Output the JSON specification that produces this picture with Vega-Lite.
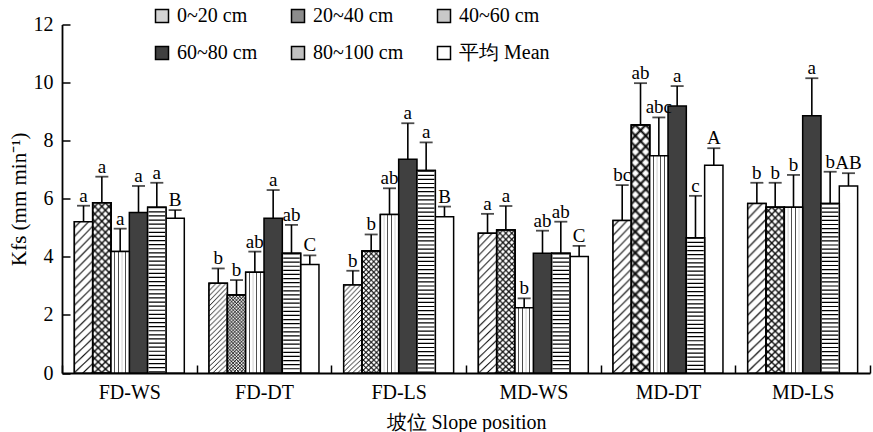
{
  "$schema": "https://vega.github.io/schema/vega-lite/v6.json",
  "width": 808,
  "height": 348.5,
  "autosize": "none",
  "padding": {"left": 62, "top": 24.5, "right": 3, "bottom": 59},
  "background": "white",
  "config": {
    "view": {"stroke": null},
    "font": "Liberation Serif",
    "axis": {
      "grid": false,
      "domainColor": "black",
      "domainWidth": 1.8,
      "tickColor": "black",
      "tickWidth": 1.5,
      "tickSize": -8,
      "labelColor": "black",
      "labelFont": "Liberation Serif",
      "labelFontSize": 20,
      "titleColor": "black",
      "titleFont": "Liberation Serif",
      "titleFontSize": 20,
      "titleFontWeight": "normal"
    }
  },
  "data": {
    "values": [
      {"slope": "FD-WS", "depth": "0~20 cm", "value": 5.21, "err": 5.76, "label": "a"},
      {"slope": "FD-WS", "depth": "20~40 cm", "value": 5.86, "err": 6.76, "label": "a"},
      {"slope": "FD-WS", "depth": "40~60 cm", "value": 4.18, "err": 4.97, "label": "a"},
      {"slope": "FD-WS", "depth": "60~80 cm", "value": 5.53, "err": 6.44, "label": "a"},
      {"slope": "FD-WS", "depth": "80~100 cm", "value": 5.71, "err": 6.55, "label": "a"},
      {"slope": "FD-WS", "depth": "平均 Mean", "value": 5.33, "err": 5.61, "label": "B"},
      {"slope": "FD-DT", "depth": "0~20 cm", "value": 3.09, "err": 3.6, "label": "b"},
      {"slope": "FD-DT", "depth": "20~40 cm", "value": 2.69, "err": 3.2, "label": "b"},
      {"slope": "FD-DT", "depth": "40~60 cm", "value": 3.47, "err": 4.18, "label": "ab"},
      {"slope": "FD-DT", "depth": "60~80 cm", "value": 5.33, "err": 6.3, "label": "a"},
      {"slope": "FD-DT", "depth": "80~100 cm", "value": 4.12, "err": 5.1, "label": "ab"},
      {"slope": "FD-DT", "depth": "平均 Mean", "value": 3.74, "err": 4.05, "label": "C"},
      {"slope": "FD-LS", "depth": "0~20 cm", "value": 3.03, "err": 3.52, "label": "b"},
      {"slope": "FD-LS", "depth": "20~40 cm", "value": 4.2, "err": 4.77, "label": "b"},
      {"slope": "FD-LS", "depth": "40~60 cm", "value": 5.46, "err": 6.36, "label": "ab"},
      {"slope": "FD-LS", "depth": "60~80 cm", "value": 7.36, "err": 8.6, "label": "a"},
      {"slope": "FD-LS", "depth": "80~100 cm", "value": 6.97, "err": 7.94, "label": "a"},
      {"slope": "FD-LS", "depth": "平均 Mean", "value": 5.38, "err": 5.73, "label": "B"},
      {"slope": "MD-WS", "depth": "0~20 cm", "value": 4.81, "err": 5.48, "label": "a"},
      {"slope": "MD-WS", "depth": "20~40 cm", "value": 4.92, "err": 5.75, "label": "a"},
      {"slope": "MD-WS", "depth": "40~60 cm", "value": 2.25, "err": 2.57, "label": "b"},
      {"slope": "MD-WS", "depth": "60~80 cm", "value": 4.12, "err": 4.9, "label": "ab"},
      {"slope": "MD-WS", "depth": "80~100 cm", "value": 4.12, "err": 5.21, "label": "ab"},
      {"slope": "MD-WS", "depth": "平均 Mean", "value": 4.01, "err": 4.38, "label": "C"},
      {"slope": "MD-DT", "depth": "0~20 cm", "value": 5.25, "err": 6.47, "label": "bc"},
      {"slope": "MD-DT", "depth": "20~40 cm", "value": 8.54, "err": 9.98, "label": "ab"},
      {"slope": "MD-DT", "depth": "40~60 cm", "value": 7.48, "err": 8.8, "label": "abc"},
      {"slope": "MD-DT", "depth": "60~80 cm", "value": 9.19, "err": 9.88, "label": "a"},
      {"slope": "MD-DT", "depth": "80~100 cm", "value": 4.66, "err": 6.1, "label": "c"},
      {"slope": "MD-DT", "depth": "平均 Mean", "value": 7.15, "err": 7.74, "label": "A"},
      {"slope": "MD-LS", "depth": "0~20 cm", "value": 5.84, "err": 6.55, "label": "b"},
      {"slope": "MD-LS", "depth": "20~40 cm", "value": 5.71, "err": 6.55, "label": "b"},
      {"slope": "MD-LS", "depth": "40~60 cm", "value": 5.71, "err": 6.82, "label": "b"},
      {"slope": "MD-LS", "depth": "60~80 cm", "value": 8.86, "err": 10.15, "label": "a"},
      {"slope": "MD-LS", "depth": "80~100 cm", "value": 5.84, "err": 6.93, "label": "b"},
      {"slope": "MD-LS", "depth": "平均 Mean", "value": 6.44, "err": 6.88, "label": "AB"}
    ]
  },
  "encoding": {
    "x": {
      "field": "slope",
      "type": "nominal",
      "sort": null,
      "scale": {"domain": ["FD-WS", "FD-DT", "FD-LS", "MD-WS", "MD-DT", "MD-LS"], "paddingInner": 0, "paddingOuter": 0},
      "axis": {"title": "坡位 Slope position", "labelAngle": 0, "tickBand": "extent", "labelPadding": 17, "titlePadding": 10}
    },
    "xOffset": {
      "field": "depth",
      "type": "nominal",
      "sort": null,
      "scale": {"domain": ["0~20 cm", "20~40 cm", "40~60 cm", "60~80 cm", "80~100 cm", "平均 Mean"], "paddingInner": 0, "paddingOuter": 0.675}
    },
    "y": {
      "field": "value",
      "type": "quantitative",
      "scale": {"domain": [0, 12], "nice": false},
      "axis": {"title": "Kfs (mm min⁻¹)", "titleFontSize": 21, "values": [0, 2, 4, 6, 8, 10, 12], "labelPadding": 17, "titlePadding": 4}
    }
  },
  "layer": [
    {
      "mark": {"type": "bar", "stroke": "black", "strokeWidth": 1.5},
      "encoding": {
        "fill": {
          "field": "depth",
          "type": "nominal",
          "sort": null,
          "scale": {
            "domain": ["0~20 cm", "20~40 cm", "40~60 cm", "60~80 cm", "80~100 cm", "平均 Mean"],
            "range": ["#d4d4d4", "#8c8c8c", "#c8c8c8", "#404040", "#c0c0c0", "#ffffff"]
          },
          "legend": {
            "title": null,
            "orient": "none",
            "legendX": 90,
            "legendY": -18.5,
            "direction": "horizontal",
            "columns": 3,
            "gridAlign": "each",
            "columnPadding": 30,
            "rowPadding": 17,
            "padding": 0,
            "symbolType": "square",
            "symbolSize": 169,
            "symbolStrokeColor": "black",
            "symbolStrokeWidth": 1.5,
            "symbolOpacity": 1,
            "labelFont": "Liberation Serif",
            "labelFontSize": 20,
            "labelColor": "black",
            "labelOffset": 5,
            "encode": {
              "symbols": {
                "update": {
                  "stroke": {"value": "black"},
                  "strokeWidth": {"value": 1.5},
                  "opacity": {"value": 1}
                }
              }
            }
          }
        }
      }
    },
    {
      "transform": [{"filter": "datum.depth === '0~20 cm'"}],
      "mark": {
        "type": "bar",
        "stroke": "black",
        "strokeWidth": 1.5,
        "fill": {"gradient": "radial", "x1": -9.5, "y1": -9.5, "r1": 13.65, "x2": -9.5, "y2": -9.5, "r2": 14.65, "stops": [
          {"offset": 0, "color": "#fff"}, {"offset": 0.007, "color": "#000"}, {"offset": 0.014, "color": "#fff"},
          {"offset": 0.04, "color": "#fff"}, {"offset": 0.047, "color": "#000"}, {"offset": 0.054, "color": "#fff"},
          {"offset": 0.08, "color": "#fff"}, {"offset": 0.087, "color": "#000"}, {"offset": 0.094, "color": "#fff"},
          {"offset": 0.12, "color": "#fff"}, {"offset": 0.127, "color": "#000"}, {"offset": 0.134, "color": "#fff"},
          {"offset": 0.16, "color": "#fff"}, {"offset": 0.167, "color": "#000"}, {"offset": 0.174, "color": "#fff"},
          {"offset": 0.2, "color": "#fff"}, {"offset": 0.207, "color": "#000"}, {"offset": 0.214, "color": "#fff"},
          {"offset": 0.24, "color": "#fff"}, {"offset": 0.247, "color": "#000"}, {"offset": 0.254, "color": "#fff"},
          {"offset": 0.28, "color": "#fff"}, {"offset": 0.287, "color": "#000"}, {"offset": 0.294, "color": "#fff"},
          {"offset": 0.32, "color": "#fff"}, {"offset": 0.327, "color": "#000"}, {"offset": 0.334, "color": "#fff"},
          {"offset": 0.36, "color": "#fff"}, {"offset": 0.367, "color": "#000"}, {"offset": 0.374, "color": "#fff"},
          {"offset": 0.4, "color": "#fff"}, {"offset": 0.407, "color": "#000"}, {"offset": 0.414, "color": "#fff"},
          {"offset": 0.44, "color": "#fff"}, {"offset": 0.447, "color": "#000"}, {"offset": 0.454, "color": "#fff"},
          {"offset": 0.48, "color": "#fff"}, {"offset": 0.487, "color": "#000"}, {"offset": 0.494, "color": "#fff"},
          {"offset": 0.52, "color": "#fff"}, {"offset": 0.527, "color": "#000"}, {"offset": 0.534, "color": "#fff"},
          {"offset": 0.56, "color": "#fff"}, {"offset": 0.567, "color": "#000"}, {"offset": 0.574, "color": "#fff"},
          {"offset": 0.6, "color": "#fff"}, {"offset": 0.607, "color": "#000"}, {"offset": 0.614, "color": "#fff"},
          {"offset": 0.64, "color": "#fff"}, {"offset": 0.647, "color": "#000"}, {"offset": 0.654, "color": "#fff"},
          {"offset": 0.68, "color": "#fff"}, {"offset": 0.687, "color": "#000"}, {"offset": 0.694, "color": "#fff"},
          {"offset": 0.72, "color": "#fff"}, {"offset": 0.727, "color": "#000"}, {"offset": 0.734, "color": "#fff"},
          {"offset": 0.76, "color": "#fff"}, {"offset": 0.767, "color": "#000"}, {"offset": 0.774, "color": "#fff"},
          {"offset": 0.8, "color": "#fff"}, {"offset": 0.807, "color": "#000"}, {"offset": 0.814, "color": "#fff"},
          {"offset": 0.84, "color": "#fff"}, {"offset": 0.847, "color": "#000"}, {"offset": 0.854, "color": "#fff"},
          {"offset": 0.88, "color": "#fff"}, {"offset": 0.887, "color": "#000"}, {"offset": 0.894, "color": "#fff"},
          {"offset": 0.92, "color": "#fff"}, {"offset": 0.927, "color": "#000"}, {"offset": 0.934, "color": "#fff"},
          {"offset": 0.96, "color": "#fff"}, {"offset": 0.967, "color": "#000"}, {"offset": 0.974, "color": "#fff"},
          {"offset": 1, "color": "#fff"}
        ]}
      }
    },
    {
      "transform": [{"filter": "datum.depth === '20~40 cm'"}],
      "mark": {
        "type": "bar",
        "stroke": "black",
        "strokeWidth": 1.5,
        "fill": {"gradient": "radial", "x1": -9.5, "y1": -9.5, "r1": 13.65, "x2": -9.5, "y2": -9.5, "r2": 14.65, "stops": [
          {"offset": 0, "color": "#fff"}, {"offset": 0.008, "color": "#000"}, {"offset": 0.016, "color": "#fff"},
          {"offset": 0.03, "color": "#fff"}, {"offset": 0.038, "color": "#000"}, {"offset": 0.046, "color": "#fff"},
          {"offset": 0.06, "color": "#fff"}, {"offset": 0.068, "color": "#000"}, {"offset": 0.076, "color": "#fff"},
          {"offset": 0.09, "color": "#fff"}, {"offset": 0.098, "color": "#000"}, {"offset": 0.106, "color": "#fff"},
          {"offset": 0.12, "color": "#fff"}, {"offset": 0.128, "color": "#000"}, {"offset": 0.136, "color": "#fff"},
          {"offset": 0.15, "color": "#fff"}, {"offset": 0.158, "color": "#000"}, {"offset": 0.166, "color": "#fff"},
          {"offset": 0.18, "color": "#fff"}, {"offset": 0.188, "color": "#000"}, {"offset": 0.196, "color": "#fff"},
          {"offset": 0.21, "color": "#fff"}, {"offset": 0.218, "color": "#000"}, {"offset": 0.226, "color": "#fff"},
          {"offset": 0.24, "color": "#fff"}, {"offset": 0.248, "color": "#000"}, {"offset": 0.256, "color": "#fff"},
          {"offset": 0.27, "color": "#fff"}, {"offset": 0.278, "color": "#000"}, {"offset": 0.286, "color": "#fff"},
          {"offset": 0.3, "color": "#fff"}, {"offset": 0.308, "color": "#000"}, {"offset": 0.316, "color": "#fff"},
          {"offset": 0.33, "color": "#fff"}, {"offset": 0.338, "color": "#000"}, {"offset": 0.346, "color": "#fff"},
          {"offset": 0.36, "color": "#fff"}, {"offset": 0.368, "color": "#000"}, {"offset": 0.376, "color": "#fff"},
          {"offset": 0.39, "color": "#fff"}, {"offset": 0.398, "color": "#000"}, {"offset": 0.406, "color": "#fff"},
          {"offset": 0.42, "color": "#fff"}, {"offset": 0.428, "color": "#000"}, {"offset": 0.436, "color": "#fff"},
          {"offset": 0.45, "color": "#fff"}, {"offset": 0.458, "color": "#000"}, {"offset": 0.466, "color": "#fff"},
          {"offset": 0.48, "color": "#fff"}, {"offset": 0.488, "color": "#000"}, {"offset": 0.496, "color": "#fff"},
          {"offset": 0.51, "color": "#fff"}, {"offset": 0.518, "color": "#000"}, {"offset": 0.526, "color": "#fff"},
          {"offset": 0.54, "color": "#fff"}, {"offset": 0.548, "color": "#000"}, {"offset": 0.556, "color": "#fff"},
          {"offset": 0.57, "color": "#fff"}, {"offset": 0.578, "color": "#000"}, {"offset": 0.586, "color": "#fff"},
          {"offset": 0.6, "color": "#fff"}, {"offset": 0.608, "color": "#000"}, {"offset": 0.616, "color": "#fff"},
          {"offset": 0.63, "color": "#fff"}, {"offset": 0.638, "color": "#000"}, {"offset": 0.646, "color": "#fff"},
          {"offset": 0.66, "color": "#fff"}, {"offset": 0.668, "color": "#000"}, {"offset": 0.676, "color": "#fff"},
          {"offset": 0.69, "color": "#fff"}, {"offset": 0.698, "color": "#000"}, {"offset": 0.706, "color": "#fff"},
          {"offset": 0.72, "color": "#fff"}, {"offset": 0.728, "color": "#000"}, {"offset": 0.736, "color": "#fff"},
          {"offset": 0.75, "color": "#fff"}, {"offset": 0.758, "color": "#000"}, {"offset": 0.766, "color": "#fff"},
          {"offset": 0.78, "color": "#fff"}, {"offset": 0.788, "color": "#000"}, {"offset": 0.796, "color": "#fff"},
          {"offset": 0.81, "color": "#fff"}, {"offset": 0.818, "color": "#000"}, {"offset": 0.826, "color": "#fff"},
          {"offset": 0.84, "color": "#fff"}, {"offset": 0.848, "color": "#000"}, {"offset": 0.856, "color": "#fff"},
          {"offset": 0.87, "color": "#fff"}, {"offset": 0.878, "color": "#000"}, {"offset": 0.886, "color": "#fff"},
          {"offset": 0.9, "color": "#fff"}, {"offset": 0.908, "color": "#000"}, {"offset": 0.916, "color": "#fff"},
          {"offset": 0.93, "color": "#fff"}, {"offset": 0.938, "color": "#000"}, {"offset": 0.946, "color": "#fff"},
          {"offset": 0.96, "color": "#fff"}, {"offset": 0.968, "color": "#000"}, {"offset": 0.976, "color": "#fff"},
          {"offset": 1, "color": "#fff"}
        ]}
      }
    },
    {
      "transform": [{"filter": "datum.depth === '20~40 cm'"}],
      "mark": {
        "type": "bar",
        "stroke": "black",
        "strokeWidth": 1.5,
        "fill": {"gradient": "radial", "x1": 10.5, "y1": -9.5, "r1": 13.65, "x2": 10.5, "y2": -9.5, "r2": 14.65, "stops": [
          {"offset": 0, "color": "rgba(0,0,0,0)"}, {"offset": 0.008, "color": "#000"}, {"offset": 0.016, "color": "rgba(0,0,0,0)"},
          {"offset": 0.03, "color": "rgba(0,0,0,0)"}, {"offset": 0.038, "color": "#000"}, {"offset": 0.046, "color": "rgba(0,0,0,0)"},
          {"offset": 0.06, "color": "rgba(0,0,0,0)"}, {"offset": 0.068, "color": "#000"}, {"offset": 0.076, "color": "rgba(0,0,0,0)"},
          {"offset": 0.09, "color": "rgba(0,0,0,0)"}, {"offset": 0.098, "color": "#000"}, {"offset": 0.106, "color": "rgba(0,0,0,0)"},
          {"offset": 0.12, "color": "rgba(0,0,0,0)"}, {"offset": 0.128, "color": "#000"}, {"offset": 0.136, "color": "rgba(0,0,0,0)"},
          {"offset": 0.15, "color": "rgba(0,0,0,0)"}, {"offset": 0.158, "color": "#000"}, {"offset": 0.166, "color": "rgba(0,0,0,0)"},
          {"offset": 0.18, "color": "rgba(0,0,0,0)"}, {"offset": 0.188, "color": "#000"}, {"offset": 0.196, "color": "rgba(0,0,0,0)"},
          {"offset": 0.21, "color": "rgba(0,0,0,0)"}, {"offset": 0.218, "color": "#000"}, {"offset": 0.226, "color": "rgba(0,0,0,0)"},
          {"offset": 0.24, "color": "rgba(0,0,0,0)"}, {"offset": 0.248, "color": "#000"}, {"offset": 0.256, "color": "rgba(0,0,0,0)"},
          {"offset": 0.27, "color": "rgba(0,0,0,0)"}, {"offset": 0.278, "color": "#000"}, {"offset": 0.286, "color": "rgba(0,0,0,0)"},
          {"offset": 0.3, "color": "rgba(0,0,0,0)"}, {"offset": 0.308, "color": "#000"}, {"offset": 0.316, "color": "rgba(0,0,0,0)"},
          {"offset": 0.33, "color": "rgba(0,0,0,0)"}, {"offset": 0.338, "color": "#000"}, {"offset": 0.346, "color": "rgba(0,0,0,0)"},
          {"offset": 0.36, "color": "rgba(0,0,0,0)"}, {"offset": 0.368, "color": "#000"}, {"offset": 0.376, "color": "rgba(0,0,0,0)"},
          {"offset": 0.39, "color": "rgba(0,0,0,0)"}, {"offset": 0.398, "color": "#000"}, {"offset": 0.406, "color": "rgba(0,0,0,0)"},
          {"offset": 0.42, "color": "rgba(0,0,0,0)"}, {"offset": 0.428, "color": "#000"}, {"offset": 0.436, "color": "rgba(0,0,0,0)"},
          {"offset": 0.45, "color": "rgba(0,0,0,0)"}, {"offset": 0.458, "color": "#000"}, {"offset": 0.466, "color": "rgba(0,0,0,0)"},
          {"offset": 0.48, "color": "rgba(0,0,0,0)"}, {"offset": 0.488, "color": "#000"}, {"offset": 0.496, "color": "rgba(0,0,0,0)"},
          {"offset": 0.51, "color": "rgba(0,0,0,0)"}, {"offset": 0.518, "color": "#000"}, {"offset": 0.526, "color": "rgba(0,0,0,0)"},
          {"offset": 0.54, "color": "rgba(0,0,0,0)"}, {"offset": 0.548, "color": "#000"}, {"offset": 0.556, "color": "rgba(0,0,0,0)"},
          {"offset": 0.57, "color": "rgba(0,0,0,0)"}, {"offset": 0.578, "color": "#000"}, {"offset": 0.586, "color": "rgba(0,0,0,0)"},
          {"offset": 0.6, "color": "rgba(0,0,0,0)"}, {"offset": 0.608, "color": "#000"}, {"offset": 0.616, "color": "rgba(0,0,0,0)"},
          {"offset": 0.63, "color": "rgba(0,0,0,0)"}, {"offset": 0.638, "color": "#000"}, {"offset": 0.646, "color": "rgba(0,0,0,0)"},
          {"offset": 0.66, "color": "rgba(0,0,0,0)"}, {"offset": 0.668, "color": "#000"}, {"offset": 0.676, "color": "rgba(0,0,0,0)"},
          {"offset": 0.69, "color": "rgba(0,0,0,0)"}, {"offset": 0.698, "color": "#000"}, {"offset": 0.706, "color": "rgba(0,0,0,0)"},
          {"offset": 0.72, "color": "rgba(0,0,0,0)"}, {"offset": 0.728, "color": "#000"}, {"offset": 0.736, "color": "rgba(0,0,0,0)"},
          {"offset": 0.75, "color": "rgba(0,0,0,0)"}, {"offset": 0.758, "color": "#000"}, {"offset": 0.766, "color": "rgba(0,0,0,0)"},
          {"offset": 0.78, "color": "rgba(0,0,0,0)"}, {"offset": 0.788, "color": "#000"}, {"offset": 0.796, "color": "rgba(0,0,0,0)"},
          {"offset": 0.81, "color": "rgba(0,0,0,0)"}, {"offset": 0.818, "color": "#000"}, {"offset": 0.826, "color": "rgba(0,0,0,0)"},
          {"offset": 0.84, "color": "rgba(0,0,0,0)"}, {"offset": 0.848, "color": "#000"}, {"offset": 0.856, "color": "rgba(0,0,0,0)"},
          {"offset": 0.87, "color": "rgba(0,0,0,0)"}, {"offset": 0.878, "color": "#000"}, {"offset": 0.886, "color": "rgba(0,0,0,0)"},
          {"offset": 0.9, "color": "rgba(0,0,0,0)"}, {"offset": 0.908, "color": "#000"}, {"offset": 0.916, "color": "rgba(0,0,0,0)"},
          {"offset": 0.93, "color": "rgba(0,0,0,0)"}, {"offset": 0.938, "color": "#000"}, {"offset": 0.946, "color": "rgba(0,0,0,0)"},
          {"offset": 0.96, "color": "rgba(0,0,0,0)"}, {"offset": 0.968, "color": "#000"}, {"offset": 0.976, "color": "rgba(0,0,0,0)"},
          {"offset": 1, "color": "rgba(0,0,0,0)"}
        ]}
      }
    },
    {
      "transform": [{"filter": "datum.depth === '40~60 cm'"}],
      "mark": {
        "type": "bar",
        "stroke": "black",
        "strokeWidth": 1.5,
        "fill": {"gradient": "linear", "x1": 0, "y1": 0, "x2": 1, "y2": 0, "stops": [
          {"offset": 0, "color": "#fff"}, {"offset": 0.17, "color": "#fff"}, {"offset": 0.2, "color": "#000"}, {"offset": 0.23, "color": "#fff"},
          {"offset": 0.37, "color": "#fff"}, {"offset": 0.4, "color": "#000"}, {"offset": 0.43, "color": "#fff"},
          {"offset": 0.57, "color": "#fff"}, {"offset": 0.6, "color": "#000"}, {"offset": 0.63, "color": "#fff"},
          {"offset": 0.77, "color": "#fff"}, {"offset": 0.8, "color": "#000"}, {"offset": 0.83, "color": "#fff"},
          {"offset": 1, "color": "#fff"}
        ]}
      }
    },
    {
      "transform": [{"filter": "datum.depth === '80~100 cm'"}],
      "mark": {"type": "bar", "stroke": "black", "strokeWidth": 1.5, "fill": "#ffffff"}
    },
    {
      "transform": [{"filter": "datum.depth === '80~100 cm'"}],
      "mark": {"type": "rule", "color": "black", "strokeWidth": 16.5, "strokeDash": [1.2, 2.9]},
      "encoding": {"y2": {"datum": 0}}
    },
    {
      "mark": {"type": "rule", "color": "black", "strokeWidth": 1.6},
      "encoding": {"y2": {"field": "err"}}
    },
    {
      "mark": {"type": "tick", "orient": "horizontal", "color": "black", "size": 13, "thickness": 1.8},
      "encoding": {"y": {"field": "err", "type": "quantitative", "title": "Kfs (mm min⁻¹)"}}
    },
    {
      "mark": {"type": "text", "baseline": "alphabetic", "dy": -4, "fontSize": 19, "font": "Liberation Serif", "color": "black"},
      "encoding": {
        "y": {"field": "err", "type": "quantitative", "title": "Kfs (mm min⁻¹)"},
        "text": {"field": "label"}
      }
    }
  ]
}
